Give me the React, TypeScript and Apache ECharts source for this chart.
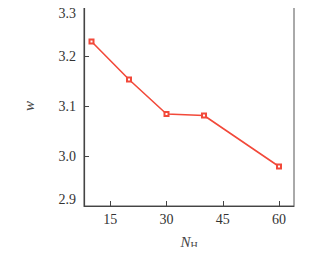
import React, { useEffect, useRef } from "react";
import * as echarts from "echarts";

const nH = [10, 20, 30, 40, 60];
const wValues = [3.229, 3.153, 3.084, 3.081, 2.979];
const xTicks = [15, 30, 45, 60];

export default function App() {
  const ref = useRef<HTMLDivElement>(null);
  useEffect(() => {
    const chart = echarts.init(ref.current!, null, { renderer: "svg" });
    const font = "Liberation Serif";
    chart.setOption({
      animation: false,
      grid: { left: 84, top: 6, right: 34, bottom: 48, show: true, borderColor: "#555", borderWidth: 1 },
      xAxis: {
        type: "value",
        min: 8,
        max: 64,
        name: "{n|N}{s|H}",
        nameLocation: "middle",
        nameGap: 28,
        nameTextStyle: {
          rich: {
            n: { fontFamily: font, fontStyle: "italic", fontSize: 15, color: "#444" },
            s: { fontFamily: font, fontSize: 10, color: "#444", verticalAlign: "bottom", padding: [6, 0, 0, 0] },
          },
        },
        axisLine: { onZero: false, lineStyle: { color: "#444", width: 1.2 } },
        axisTick: { inside: true, length: 5, customValues: xTicks, lineStyle: { color: "#444" } },
        axisLabel: { customValues: xTicks, fontFamily: font, fontSize: 14, color: "#333", margin: 6 },
        splitLine: { show: false },
      },
      yAxis: {
        type: "value",
        min: 2.9,
        max: 3.3,
        interval: 0.1,
        name: "w",
        nameLocation: "middle",
        nameGap: 48,
        nameTextStyle: { fontFamily: font, fontStyle: "italic", fontSize: 15, color: "#444" },
        axisLine: { onZero: false, lineStyle: { color: "#444", width: 1.2 } },
        axisTick: { inside: true, length: 5, lineStyle: { color: "#444" } },
        axisLabel: {
          fontFamily: font,
          fontSize: 14,
          color: "#333",
          margin: 8,
          verticalAlignMaxLabel: "top",
          verticalAlignMinLabel: "bottom",
          formatter: (v: number) => v.toFixed(1),
        },
        splitLine: { show: false },
      },
      series: [
        {
          type: "line",
          data: nH.map((x, i) => [x, wValues[i]]),
          color: "#f2493a",
          lineStyle: { width: 1.6, color: "#f2493a" },
          symbol: "emptyRect",
          symbolSize: 4,
          itemStyle: { color: "#f2493a", borderColor: "#f2493a", borderWidth: 1 },
        },
      ],
    });
    return () => chart.dispose();
  }, []);
  return <div ref={ref} style={{ width: 328, height: 255, margin: -8 }} />;
}
